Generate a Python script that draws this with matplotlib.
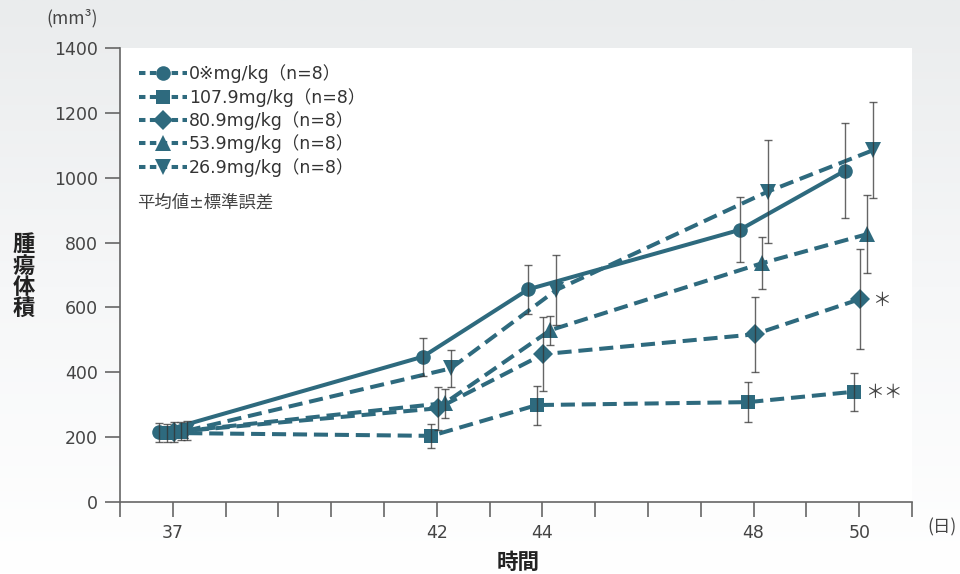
import numpy as np
import matplotlib
matplotlib.use("Agg")
import matplotlib.pyplot as plt
import matplotlib.transforms as mtransforms
from matplotlib.lines import Line2D
from matplotlib.colors import LinearSegmentedColormap

plt.rcParams['font.family'] = ['DejaVu Sans', 'Noto Sans CJK JP']

# ---- data ----
days = [37, 42, 44, 48, 50]
labels = ["0※mg/kg（n=8）", "107.9mg/kg（n=8）", "80.9mg/kg（n=8）",
          "53.9mg/kg（n=8）", "26.9mg/kg（n=8）"]
mean_0 = [215, 448, 656, 839, 1022]
se_0 = [30, 58, 76, 100, 147]
mean_1079 = [213, 204, 299, 308, 340]
se_1079 = [28, 38, 60, 61, 58]
mean_809 = [216, 289, 456, 517, 626]
se_809 = [30, 67, 115, 115, 155]
mean_539 = [218, 305, 530, 736, 826]
se_539 = [28, 45, 45, 80, 121]
mean_269 = [220, 412, 654, 957, 1085]
se_269 = [30, 58, 108, 158, 148]
xtick_labels = ["37", "42", "44", "48", "50"]
yticks = [0, 200, 400, 600, 800, 1000, 1200, 1400]

means = [mean_0, mean_1079, mean_809, mean_539, mean_269]
ses = [se_0, se_1079, se_809, se_539, se_269]
markers = ['o', 's', 'D', '^', 'v']
msizes = [10.5, 10.5, 10.5, 11.5, 11.5]
styles = ['-', '--', '--', '--', '--']
xoffs_px = [-14, -5.5, 1, 8, 14]

color = '#2e6a7e'
txt = '#444444'

fig = plt.figure(figsize=(9.6, 5.74), dpi=100)

# background gradient
bg = fig.add_axes([0, 0, 1, 1], zorder=-10)
grad = np.linspace(0, 1, 256).reshape(-1, 1)
cmap = LinearSegmentedColormap.from_list('bg', ['#eaeced', '#f6f7f8', '#ffffff'])
bg.imshow(grad, aspect='auto', cmap=cmap, extent=[0, 1, 0, 1], origin='upper')
bg.axis('off')

ax = fig.add_axes([0.125, 0.1254, 0.825, 0.791])
ax.set_facecolor('white')

lw = 2.9
for i in range(5):
    tr = mtransforms.offset_copy(ax.transData, fig=fig, x=xoffs_px[i], y=0, units='dots')
    ax.plot(days, means[i], linestyle=styles[i], color=color, lw=lw,
            dashes=(3.5, 1.7) if styles[i] == '--' else (None, None),
            marker=markers[i], markersize=msizes[i], markeredgewidth=0,
            transform=tr, zorder=3)
    ax.errorbar(days, means[i], yerr=ses[i], fmt='none', ecolor='#333333',
                elinewidth=1.0, capsize=3.2, capthick=1.0, alpha=0.75,
                transform=tr, zorder=4)

ax.set_xlim(36, 51)
ax.set_ylim(0, 1400)
ax.set_xticks(range(36, 52))
ax.set_xticklabels(["" if d not in days else xtick_labels[days.index(d)] for d in range(36, 52)])
ax.set_yticks(yticks)
ax.set_yticklabels([str(v) for v in yticks])
ax.tick_params(axis='x', direction='out', length=11, width=1.2, color='#666666',
               labelsize=12.5, labelcolor=txt, pad=5)
ax.tick_params(axis='y', direction='out', length=11, width=1.2, color='#666666',
               labelsize=12.5, labelcolor=txt, pad=5)
for s in ['top', 'right']:
    ax.spines[s].set_visible(False)
for s in ['left', 'bottom']:
    ax.spines[s].set_color('#666666')
    ax.spines[s].set_linewidth(1.2)

# legend
handles = []
for i in range(5):
    handles.append(Line2D([0], [0], color=color, lw=lw, linestyle='--', dashes=(1.6, 1.1),
                          marker=markers[i], markersize=msizes[i], markeredgewidth=0))
leg = ax.legend(handles, labels, loc='upper left', bbox_to_anchor=(0.004, 0.998),
                frameon=False, fontsize=12.5, handlelength=2.75, handletextpad=0.15,
                labelspacing=0.26, borderaxespad=0.5)
for t in leg.get_texts():
    t.set_color('#333333')

fig.text(137 / 960, 1 - 203 / 574, "平均値±標準誤差", fontsize=12.5, color=txt,
         ha='left', va='center')

# asterisks
fig.text(872 / 960, 1 - 300 / 574, "＊", fontsize=13.5, color='#444444', ha='left', va='center',
         family='Noto Sans CJK JP')
fig.text(865 / 960, 1 - 392 / 574, "＊＊", fontsize=13.5, color='#444444', ha='left', va='center',
         family='Noto Sans CJK JP')

# axis labels
fig.text(24 / 960, 1 - 277 / 574, "腫\n瘍\n体\n積", fontsize=16, fontweight='bold',
         color='#222222', ha='center', va='center', linespacing=0.92,
         family='Noto Sans CJK JP')
fig.text(72 / 960, 1 - 18 / 574, "(mm³)", fontsize=12.5, color=txt, ha='center', va='center',
         family=['Noto Sans CJK JP', 'DejaVu Sans'])
fig.text(518 / 960, 1 - 562 / 574, "時間", fontsize=15.5, fontweight='bold', color='#222222',
         ha='center', va='center', family='Noto Sans CJK JP')
fig.text(942 / 960, 1 - 527 / 574, "(日)", fontsize=12.5, color=txt, ha='center', va='center',
         family='Noto Sans CJK JP')

fig.savefig('out.png', dpi=100)
